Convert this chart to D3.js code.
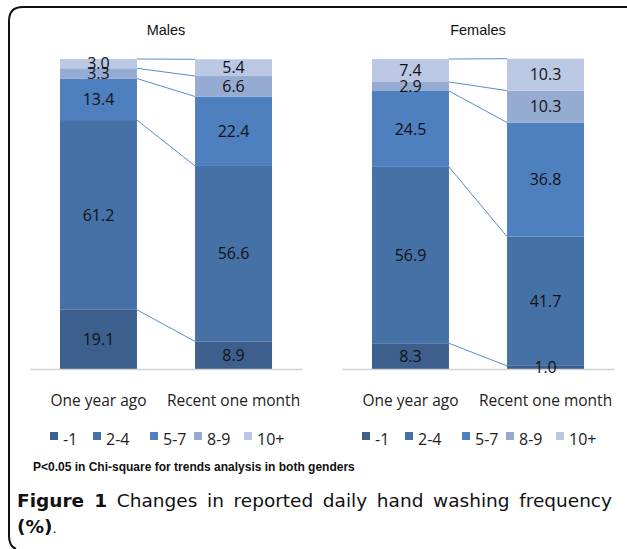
<!DOCTYPE html>
<html>
<head>
<meta charset="utf-8">
<script src="https://cdn.jsdelivr.net/npm/d3@7"></script>
<style>
  body { margin: 0; background: #fff; }
  svg { display: block; }
</style>
</head>
<body>
<div id="chart"></div>
<script>
// Categories, series and values (%)
const periods = ["One year ago", "Recent one month"];
const freqGroups = ["-1", "2-4", "5-7", "8-9", "10+"];
const males = [
    [19.1, 61.2, 13.4, 3.3, 3.0],
    [8.9, 56.6, 22.4, 6.6, 5.4]
];
const females = [
    [8.3, 56.9, 24.5, 2.9, 7.4],
    [1.0, 41.7, 36.8, 10.3, 10.3]
];
const panels = ["Males", "Females"];

const W = 627, H = 549;

const svg = d3.select("#chart")
    .append("svg")
    .attr("width", W)
    .attr("height", H);

// Frame around figure
svg.append("path")
    .attr("d", "M627,7 L23,7 Q9,7 9,21 L9,536 Q9,546 16,549")
    .attr("fill", "none")
    .attr("stroke", "#111")
    .attr("stroke-width", 2);

const color = d3.scaleOrdinal()
    .domain(freqGroups)
    .range(["#3c5f8d", "#4571a7", "#4e80bf", "#95abd2", "#bac8e3"]);

const y = d3.scaleLinear()
    .domain([0, 100])
    .range([369, 59]);

const labelFont = "'Open Sans', sans-serif";

function drawPanel(title, data, x0) {
    const g = svg.append("g");

    const x = d3.scaleBand()
        .domain(periods)
        .range([x0, x0 + 272])
        .paddingInner(0.43)
        .paddingOuter(0.222);

    // build stacked segments
    const rows = periods.map((p, i) => {
        const r = {period: p};
        freqGroups.forEach((f, j) => r[f] = data[i][j]);
        return r;
    });
    const stacked = d3.stack().keys(freqGroups)(rows);

    // Series lines between the bars
    stacked.forEach(s => {
        g.append("line")
            .attr("x1", x(periods[0]) + x.bandwidth())
            .attr("y1", y(s[0][1]))
            .attr("x2", x(periods[1]))
            .attr("y2", y(s[1][1]))
            .attr("stroke", "#5b8ccc")
            .attr("stroke-width", 1);
    });

    // Bars
    stacked.forEach(s => {
        g.selectAll(null)
            .data(s)
            .enter()
            .append("rect")
            .attr("x", d => x(d.data.period))
            .attr("y", d => y(d[1]))
            .attr("width", x.bandwidth())
            .attr("height", d => y(d[0]) - y(d[1]))
            .attr("fill", color(s.key));
    });

    // Axis line
    g.append("g")
        .attr("transform", "translate(0,369)")
        .call(d3.axisBottom(x).tickSize(0).tickPadding(26))
        .call(a => a.select(".domain").attr("stroke", "#d4d4d4").attr("stroke-width", 1.5))
        .call(a => a.selectAll("text")
            .attr("font-family", labelFont)
            .attr("font-size", 15.5)
            .attr("fill", "#222"));

    // Data labels
    stacked.forEach(s => {
        g.selectAll(null)
            .data(s)
            .enter()
            .append("text")
            .attr("x", d => x(d.data.period) + x.bandwidth() / 2)
            .attr("y", d => (y(d[0]) + y(d[1])) / 2)
            .attr("dy", "0.36em")
            .attr("text-anchor", "middle")
            .attr("font-family", labelFont)
            .attr("font-size", 16)
            .attr("fill", "#111")
            .text(d => (d[1] - d[0]).toFixed(1));
    });

    // Panel title
    g.append("text")
        .attr("x", x0 + 136)
        .attr("y", 35)
        .attr("text-anchor", "middle")
        .attr("font-family", "'Liberation Sans', Arial, sans-serif")
        .attr("font-size", 14.5)
        .attr("fill", "#111")
        .text(title);

    // Legend
    const legendX = [50, 93, 150, 194, 244];
    const legend = g.append("g")
        .attr("transform", `translate(${x0 - 30},0)`);
    freqGroups.forEach((f, i) => {
        legend.append("rect")
            .attr("x", legendX[i])
            .attr("y", 432)
            .attr("width", 8)
            .attr("height", 8)
            .attr("fill", color(f));
        legend.append("text")
            .attr("x", legendX[i] + 13)
            .attr("y", 445)
            .attr("font-family", labelFont)
            .attr("font-size", 16)
            .attr("fill", "#222")
            .text(f);
    });
}

drawPanel(panels[0], males, 30);
drawPanel(panels[1], females, 342);

// Note
svg.append("text")
    .attr("x", 33)
    .attr("y", 471)
    .attr("font-family", "'Liberation Sans', Arial, sans-serif")
    .attr("font-weight", "bold")
    .attr("font-size", 12)
    .attr("fill", "#111")
    .text("P<0.05 in Chi-square for trends analysis in both genders");

// Caption (justified first line)
const capFont = "'DejaVu Sans', sans-serif";
const cap = svg.append("text")
    .attr("x", 17)
    .attr("y", 507)
    .attr("font-family", capFont)
    .attr("font-size", 18.5)
    .attr("fill", "#111");
cap.append("tspan").attr("font-weight", "bold").text("Figure 1");
cap.append("tspan").text(" Changes in reported daily hand washing frequency");
const capLen = cap.node().getComputedTextLength();
const gaps = 8;
cap.attr("word-spacing", (612 - 17 - capLen) / gaps);

const cap2 = svg.append("text")
    .attr("x", 17)
    .attr("y", 533)
    .attr("font-family", capFont)
    .attr("font-size", 18.5)
    .attr("fill", "#111");
cap2.append("tspan").attr("font-weight", "bold").text("(%)");
cap2.append("tspan").attr("font-size", 13).text(".");
</script>
</body>
</html>
